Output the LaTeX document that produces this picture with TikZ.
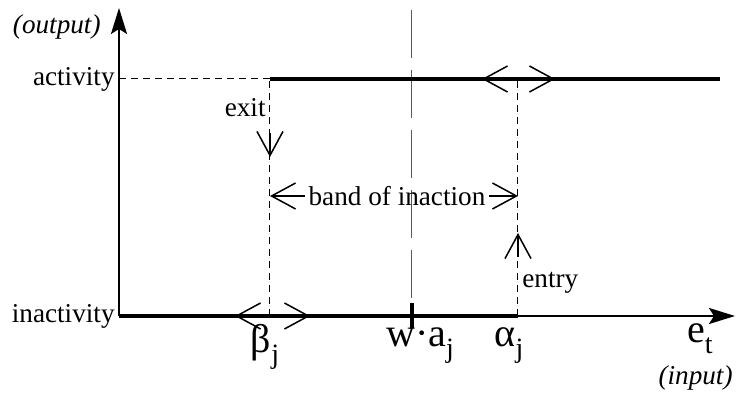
\documentclass[tikz,border=0pt]{standalone}
\usepackage{fontspec}
\setmainfont{Liberation Serif}
\usetikzlibrary{arrows.meta}

% value with a lowered index, as printed under the axis
\newcommand{\idx}[2]{{\fontsize{20}{22}\selectfont #1\raisebox{-0.6ex}{\fontsize{14}{16}\selectfont #2}}}

\begin{document}
\begin{tikzpicture}[
    x=0.5pt, y=-0.5pt,
    txt/.style={font=\fontsize{13.6}{16}\selectfont, inner sep=0pt},
    axis/.style={line width=1pt, -{Stealth[length=13pt, width=8pt, inset=2.5pt]}},
    level/.style={line width=2pt},
    guide/.style={line width=0.5pt, dash pattern=on 3.5pt off 2.5pt},
    centre/.style={line width=0.5pt, gray!70!black, dash pattern=on 24pt off 6pt},
    barb/.style={line width=0.75pt, {Straight Barb[length=12pt, width=13pt]}-{Straight Barb[length=12pt, width=13pt]}},
    tip/.style={line width=0.75pt, -{Straight Barb[length=12pt, width=13pt]}}
]
\useasboundingbox (0,0) rectangle (736,394);

\coordinate (O) at (119,316);
\coordinate (ytop) at (119,8);
\coordinate (xend) at (735,316);
\coordinate (act0) at (119,79);
\coordinate (actend) at (720,79);
\coordinate (beta) at (270,316);
\coordinate (betaup) at (270,79);
\coordinate (alpha) at (518,316);
\coordinate (alphaup) at (518,79);
\coordinate (wa) at (412,316);
\coordinate (watop) at (412,10);

% guides
\draw[guide] (act0) -- (betaup);
\draw[guide] (beta) -- (betaup);
\draw[guide] (alpha) -- (alphaup);
\draw[centre] (watop) -- (wa);

% output levels
\draw[level] (betaup) -- (actend);
\draw[level] (O) -- (alpha);
\draw[level] (412,303) -- (412,328);

% axes
\draw[axis] (O) -- (xend);
\draw[axis] (O) -- (ytop);

% shifting thresholds
\draw[barb] (482,79) -- (555,79);
\draw[barb] (235,316) -- (310,316);

% band of inaction
\node[txt, inner sep=1.5pt] (band) at (397,196) {band of inaction};
\coordinate (bandl) at (270,196);
\coordinate (bandr) at (518,196);
\draw[tip] (band.west) -- (bandl);
\draw[tip] (band.east) -- (bandr);

% exit / entry
\coordinate (exitend) at (270,157);
\coordinate (entryend) at (518,233);
\draw[tip] (270,133) -- (exitend);
\draw[tip] (518,257) -- (entryend);
\node[txt, anchor=east] (exit) at (266,108) {exit};
\node[txt, anchor=west] (entry) at (522,283) {entry};

% axis labels
\node[txt, anchor=east] (output) at (101,27) {\itshape (output)};
\node[txt, anchor=east] (activity) at (115,79) {activity};
\node[txt, anchor=east] (inactivity) at (115,316) {inactivity};
\node[txt, anchor=east] (input) at (733,378) {\itshape (input)};
\node[txt] (betalbl) at (265,347) {\idx{β}{j}};
\node[txt] (walbl) at (420,346) {\idx{w·a}{j}};
\node[txt] (alphalbl) at (509,346) {\idx{α}{j}};
\node[txt] (etlbl) at (700,339) {\idx{e}{t}};
\end{tikzpicture}
\end{document}
